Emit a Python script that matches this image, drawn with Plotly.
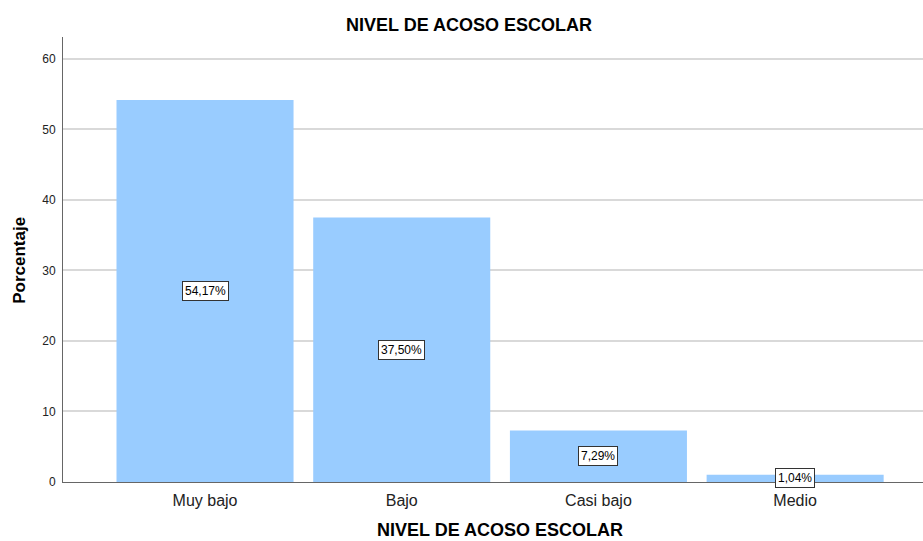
import plotly.graph_objects as go

categories = ["Muy bajo", "Bajo", "Casi bajo", "Medio"]
percentages = [54.17, 37.50, 7.29, 1.04]
value_labels = ["54,17%", "37,50%", "7,29%", "1,04%"]
y_ticks = [0, 10, 20, 30, 40, 50, 60]

FONT = "Liberation Sans, Arial, sans-serif"
BAR_COLOR = "#99CCFF"

fig = go.Figure()
fig.add_trace(go.Bar(
    x=categories,
    y=percentages,
    marker=dict(color=BAR_COLOR, line=dict(width=0)),
    hoverinfo="skip",
))

for cat, val, lab in zip(categories, percentages, value_labels):
    fig.add_annotation(
        x=cat, y=val / 2, xref="x", yref="y",
        text=lab, showarrow=False,
        font=dict(family=FONT, size=12, color="#000000"),
        bgcolor="#FFFFFF", bordercolor="#333333", borderwidth=1, borderpad=2,
    )

fig.add_annotation(
    x=0.508, y=-0.108, xref="paper", yref="paper",
    text="<b>NIVEL DE ACOSO ESCOLAR</b>", showarrow=False,
    font=dict(family=FONT, size=18, color="#000000"),
    xanchor="center", yanchor="middle",
)
fig.add_annotation(
    x=-0.05, y=0.497, xref="paper", yref="paper",
    text="<b>Porcentaje</b>", showarrow=False, textangle=-90,
    font=dict(family=FONT, size=17, color="#000000"),
    xanchor="center", yanchor="middle",
)

fig.update_layout(
    width=923, height=541,
    margin=dict(l=63, r=0, t=37, b=59),
    paper_bgcolor="#FFFFFF", plot_bgcolor="#FFFFFF",
    bargap=0.1,
    showlegend=False,
    title=dict(
        text="<b>NIVEL DE ACOSO ESCOLAR</b>",
        x=469 / 923, xref="container", xanchor="center",
        y=1 - 25 / 541, yref="container", yanchor="middle",
        font=dict(family=FONT, size=18, color="#000000"),
    ),
    xaxis=dict(
        range=[-0.722, 3.65],
        showgrid=False, zeroline=False,
        showline=True, linecolor="#666666", linewidth=1,
        ticks="outside", ticklen=4, tickcolor="rgba(0,0,0,0)",
        tickfont=dict(family=FONT, size=16, color="#222222"),
    ),
    yaxis=dict(
        range=[0, 63.1],
        tickvals=y_ticks,
        showgrid=True, gridcolor="#D9D9D9", gridwidth=1.5,
        zeroline=False,
        showline=True, linecolor="#666666", linewidth=1,
        ticks="outside", ticklen=4, tickcolor="rgba(0,0,0,0)",
        tickfont=dict(family=FONT, size=12, color="#222222"),
    ),
)

fig.write_html(
    "out.html",
    config={"displayModeBar": False},
    post_script="document.body.style.margin='0';document.body.style.overflow='hidden';",
)
